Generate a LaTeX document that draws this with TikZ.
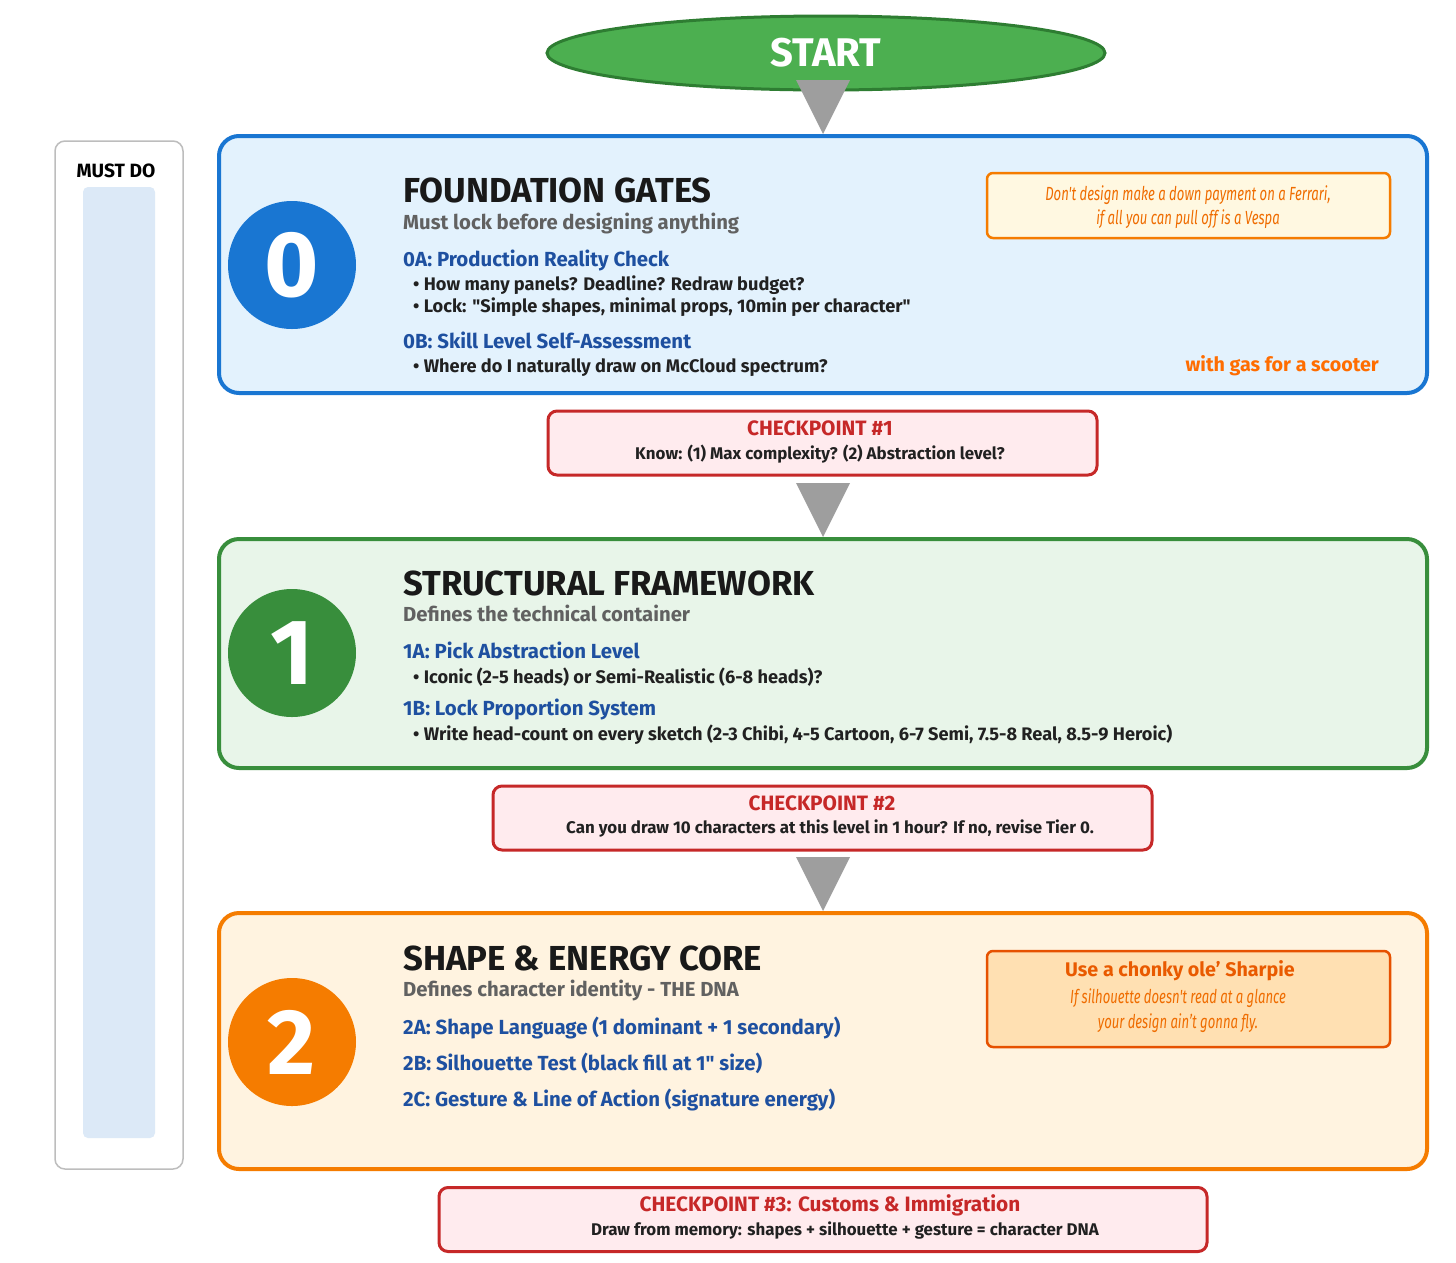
\documentclass[tikz,border=0pt]{standalone}
\usepackage{fontspec}
\setmainfont{Fira Sans}[Ligatures=TeXOff]
\newfontfamily\condit{Fira Sans}[FakeStretch=0.69, Ligatures=TeXOff]
\usetikzlibrary{calc,shapes.geometric}
\definecolor{tblue}{HTML}{1976D2}
\definecolor{tbluefill}{HTML}{E3F2FD}
\definecolor{tgreen}{HTML}{388E3C}
\definecolor{tgreenfill}{HTML}{E8F5E9}
\definecolor{torange}{HTML}{F57C00}
\definecolor{torangefill}{HTML}{FFF3E0}
\definecolor{headblue}{HTML}{1E50A0}
\definecolor{subgray}{HTML}{616161}
\definecolor{bodyblack}{HTML}{212121}
\definecolor{cpfill}{HTML}{FFEBEE}
\definecolor{cpred}{HTML}{C62828}
\definecolor{quotefill}{HTML}{FFF8E1}
\definecolor{quotetext}{HTML}{EF6C00}
\definecolor{sharpfill}{HTML}{FFE0B2}
\definecolor{sharpborder}{HTML}{E65100}
\definecolor{gasorange}{HTML}{FF6D00}
\definecolor{arrowgray}{HTML}{9E9E9E}
\definecolor{mustborder}{HTML}{BDBDBD}
\definecolor{mustbar}{HTML}{DCE9F7}
\definecolor{startgreen}{HTML}{4CAF50}
\definecolor{startborder}{HTML}{2E7D32}
\tikzset{
  x=1pt, y=-1pt,
  tierbox/.style={draw, line width=4pt, rounded corners=20pt, minimum width=1208pt, inner sep=0pt},
  tiercircle/.style={circle, minimum size=128pt, inner sep=0pt, text=white, font=\fontsize{93}{93}\selectfont\bfseries},
  tiertitle/.style={anchor=base west, inner sep=0pt, text=black!90, font=\fontsize{34.7}{35}\selectfont\bfseries},
  tiersub/.style={anchor=base west, inner sep=0pt, text=subgray, font=\fontsize{20.3}{20}\selectfont\bfseries},
  stephead/.style={anchor=base west, inner sep=0pt, text=headblue, font=\fontsize{20.4}{20}\selectfont\bfseries},
  bullet/.style={anchor=base west, inner sep=0pt, text=bodyblack, font=\fontsize{18.2}{18}\selectfont\bfseries},
  cpbox/.style={draw=cpred, fill=cpfill, line width=3pt, rounded corners=9pt, inner sep=0pt, minimum height=64pt},
  cptitle/.style={inner sep=0pt, text=cpred, font=\fontsize{20.8}{21}\selectfont\bfseries},
  cpline/.style={inner sep=0pt, text=bodyblack, font=\fontsize{16.9}{17}\selectfont\bfseries},
  quoteit/.style={inner sep=0pt, text=quotetext, font=\fontsize{19}{19}\selectfont\condit\itshape},
  arrowtri/.style={fill=arrowgray},
}
\begin{document}
\begin{tikzpicture}
\useasboundingbox (0,0) rectangle (1456,1262);
\fill[white] (0,0) rectangle (1456,1262);

% MUST DO panel
\node[draw=mustborder, fill=white, line width=1.5pt, rounded corners=10pt, minimum width=128pt, minimum height=1028pt, inner sep=0pt] (must) at (119,655) {};
\node[inner sep=0pt, font=\fontsize{19.2}{19}\selectfont\bfseries] (musttxt) at (116,171) {MUST DO};
\node[fill=mustbar, rounded corners=5pt, minimum width=72pt, minimum height=951pt, inner sep=0pt] (mustbar) at (119,662.5) {};

% Tier boxes
\node[tierbox, draw=tblue, fill=tbluefill, minimum height=257pt] (tier0) at (823,264.5) {};
\node[tierbox, draw=tgreen, fill=tgreenfill, minimum height=229pt] (tier1) at (823,653.5) {};
\node[tierbox, draw=torange, fill=torangefill, minimum height=256pt] (tier2) at (823,1041) {};

% START
\node[ellipse, draw=startborder, fill=startgreen, line width=3pt, minimum width=558pt, minimum height=74pt, inner sep=0pt, text=white, font=\fontsize{40}{40}\selectfont\bfseries] (start) at (826,53) {START};

% Checkpoints
\node[cpbox, minimum width=549pt] (cp1) at (822.5,443) {};
\node[cptitle] (cp1t) at (820,428) {CHECKPOINT \#1};
\node[cpline] (cp1l) at (820,454) {Know: (1) Max complexity? (2) Abstraction level?};

\node[cpbox, minimum width=659pt] (cp2) at (822.5,818) {};
\node[cptitle] (cp2t) at (822,803) {CHECKPOINT \#2};
\node[cpline] (cp2l) at (830,829) {Can you draw 10 characters at this level in 1 hour? If no, revise Tier 0.};

\node[cpbox, minimum width=768pt] (cp3) at (823,1219.5) {};
\node[cptitle] (cp3t) at (830,1205) {CHECKPOINT \#3: Customs \& Immigration};
\node[cpline] (cp3l) at (845,1231) {Draw from memory: shapes + silhouette + gesture = character DNA};

% Arrow triangles
\fill[arrowtri] (tier0.north) -- ($(tier0.north)+(-27,-54)$) -- ($(tier0.north)+(27,-54)$) -- cycle;
\fill[arrowtri] (tier1.north) -- ($(tier1.north)+(-27,-54)$) -- ($(tier1.north)+(27,-54)$) -- cycle;
\fill[arrowtri] (tier2.north) -- ($(tier2.north)+(-27,-54)$) -- ($(tier2.north)+(27,-54)$) -- cycle;

% Tier 0 content
\node[tiercircle, fill=tblue] (c0) at (292,265) {0};
\node[tiertitle] (t0) at (403,202) {FOUNDATION GATES};
\node[tiersub] (s0) at (403,229) {Must lock before designing anything};
\node[stephead] (h0a) at (403,266) {0A: Production Reality Check};
\node[bullet] (b0a1) at (413,290) {\textbullet\ How many panels? Deadline? Redraw budget?};
\node[bullet] (b0a2) at (413,312) {\textbullet\ Lock: "Simple shapes, minimal props, 10min per character"};
\node[stephead] (h0b) at (403,348) {0B: Skill Level Self-Assessment};
\node[bullet] (b0b1) at (413,372) {\textbullet\ Where do I naturally draw on McCloud spectrum?};
\node[draw=torange, fill=quotefill, line width=2.5pt, rounded corners=6pt, minimum width=403pt, minimum height=65pt, inner sep=0pt] (quote) at (1188.5,205.5) {};
\node[quoteit] (q1) at (1188,195) {Don't design make a down payment on a Ferrari,};
\node[quoteit] (q2) at (1188,219) {if all you can pull off is a Vespa};
\node[anchor=base east, inner sep=0pt, text=gasorange, font=\fontsize{19.7}{20}\selectfont\bfseries] (gas) at (1379,371) {with gas for a scooter};

% Tier 1 content
\node[tiercircle, fill=tgreen] (c1) at (292,653) {1};
\node[tiertitle] (t1) at (403,595) {STRUCTURAL FRAMEWORK};
\node[tiersub] (s1) at (403,621) {Defines the technical container};
\node[stephead] (h1a) at (403,658) {1A: Pick Abstraction Level};
\node[bullet] (b1a1) at (413,683) {\textbullet\ Iconic (2-5 heads) or Semi-Realistic (6-8 heads)?};
\node[stephead] (h1b) at (403,715) {1B: Lock Proportion System};
\node[bullet] (b1b1) at (413,740) {\textbullet\ Write head-count on every sketch (2-3 Chibi, 4-5 Cartoon, 6-7 Semi, 7.5-8 Real, 8.5-9 Heroic)};

% Tier 2 content
\node[tiercircle, fill=torange] (c2) at (292,1042) {2};
\node[tiertitle] (t2) at (403,970) {SHAPE \& ENERGY CORE};
\node[tiersub] (s2) at (403,996) {Defines character identity - THE DNA};
\node[stephead] (h2a) at (403,1034) {2A: Shape Language (1 dominant + 1 secondary)};
\node[stephead] (h2b) at (403,1070) {2B: Silhouette Test (black fill at 1" size)};
\node[stephead] (h2c) at (403,1106) {2C: Gesture \& Line of Action (signature energy)};
\node[draw=sharpborder, fill=sharpfill, line width=2.5pt, rounded corners=6pt, minimum width=403pt, minimum height=96pt, inner sep=0pt] (sharp) at (1188.5,999) {};
\node[inner sep=0pt, text=sharpborder!80!torange, font=\fontsize{19.7}{20}\selectfont\bfseries] (sh1) at (1180,971) {Use a chonky ole’ Sharpie};
\node[quoteit] (sh2) at (1178,998) {If silhouette doesn't read at a glance};
\node[quoteit] (sh3) at (1178,1023) {your design ain’t gonna fly.};
\end{tikzpicture}
\end{document}
